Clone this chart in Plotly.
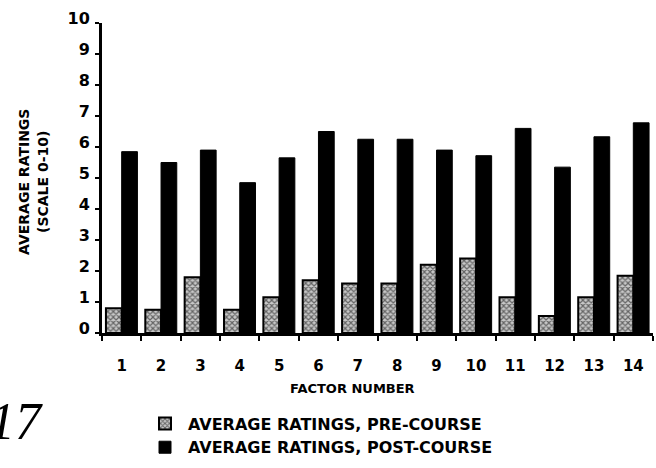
import plotly.graph_objects as go

factors = [str(i) for i in range(1, 15)]
pre_course = [0.8, 0.75, 1.8, 0.75, 1.15, 1.7, 1.6, 1.6, 2.2, 2.4, 1.15, 0.55, 1.15, 1.85]
post_course = [5.85, 5.5, 5.9, 4.85, 5.65, 6.5, 6.25, 6.25, 5.9, 5.72, 6.6, 5.35, 6.33, 6.78]
y_ticks = list(range(0, 11))

FONT = "DejaVu Sans, sans-serif"

fig = go.Figure()
fig.add_trace(go.Bar(
    x=factors, y=pre_course, name="AVERAGE RATINGS, PRE-COURSE",
    marker=dict(color="#cfcfcf",
                line=dict(color="black", width=2),
                pattern=dict(shape="x", fgcolor="black", bgcolor="#c8c8c8", size=4, solidity=0.5)),
))
fig.add_trace(go.Bar(
    x=factors, y=post_course, name="AVERAGE RATINGS, POST-COURSE",
    marker=dict(color="black", line=dict(color="black", width=1)),
))

W, H = 656, 468
L, R, T, B = 102, 3, 23, 133
pw, ph = W - L - R, H - T - B

def px(x):
    return (x - L) / pw

def py(y):
    return (H - B - y) / ph

fig.update_layout(
    width=W, height=H,
    margin=dict(l=L, r=R, t=T, b=B),
    paper_bgcolor="white", plot_bgcolor="white",
    barmode="group", bargap=0.2, bargroupgap=0.0,
    font=dict(family=FONT, color="black"),
    showlegend=True,
    legend=dict(x=px(142), y=py(409), xanchor="left", yanchor="top",
                font=dict(size=16, family=FONT, color="black", weight="bold"),
                traceorder="normal", tracegroupgap=7, itemwidth=36,
                bgcolor="rgba(0,0,0,0)"),
    xaxis=dict(type="category", tickson="boundaries", ticks="outside", ticklen=5, tickwidth=2,
               tickcolor="black", showline=True, linecolor="black", linewidth=3,
               showgrid=False, zeroline=False,
               tickfont=dict(size=15, family=FONT, color="black", weight="bold"),
               ticklabelstandoff=17),
    yaxis=dict(range=[0, 10], tickvals=y_ticks, ticks="outside", ticklen=4, tickwidth=2,
               tickcolor="black", showline=True, linecolor="black", linewidth=3,
               showgrid=False, zeroline=False,
               tickfont=dict(size=16, family=FONT, color="black", weight="bold"),
               ticklabelstandoff=2, ticklabelshift=-5),
)

fig.add_annotation(text="FACTOR NUMBER", xref="paper", yref="paper", x=px(352), y=py(391),
                   xanchor="center", yanchor="middle",
                   showarrow=False, font=dict(size=13, family=FONT, weight="bold"))
fig.add_annotation(text="AVERAGE RATINGS", xref="paper", yref="paper", x=px(24), y=py(183),
                   xanchor="center", yanchor="middle",
                   textangle=-90, showarrow=False, font=dict(size=14, family=FONT, weight="bold"))
fig.add_annotation(text="(SCALE 0-10)", xref="paper", yref="paper", x=px(43), y=py(183),
                   xanchor="center", yanchor="middle",
                   textangle=-90, showarrow=False, font=dict(size=14, family=FONT, weight="bold"))
fig.add_annotation(text="17", xref="paper", yref="paper", x=px(45), y=py(424),
                   xanchor="right", yanchor="middle", showarrow=False,
                   font=dict(size=52, family="Liberation Serif, DejaVu Serif, serif", style="italic"))

fig.write_html("out.html", config={"displayModeBar": False},
               post_script="document.body.style.margin='0px';document.body.style.overflow='hidden';")
